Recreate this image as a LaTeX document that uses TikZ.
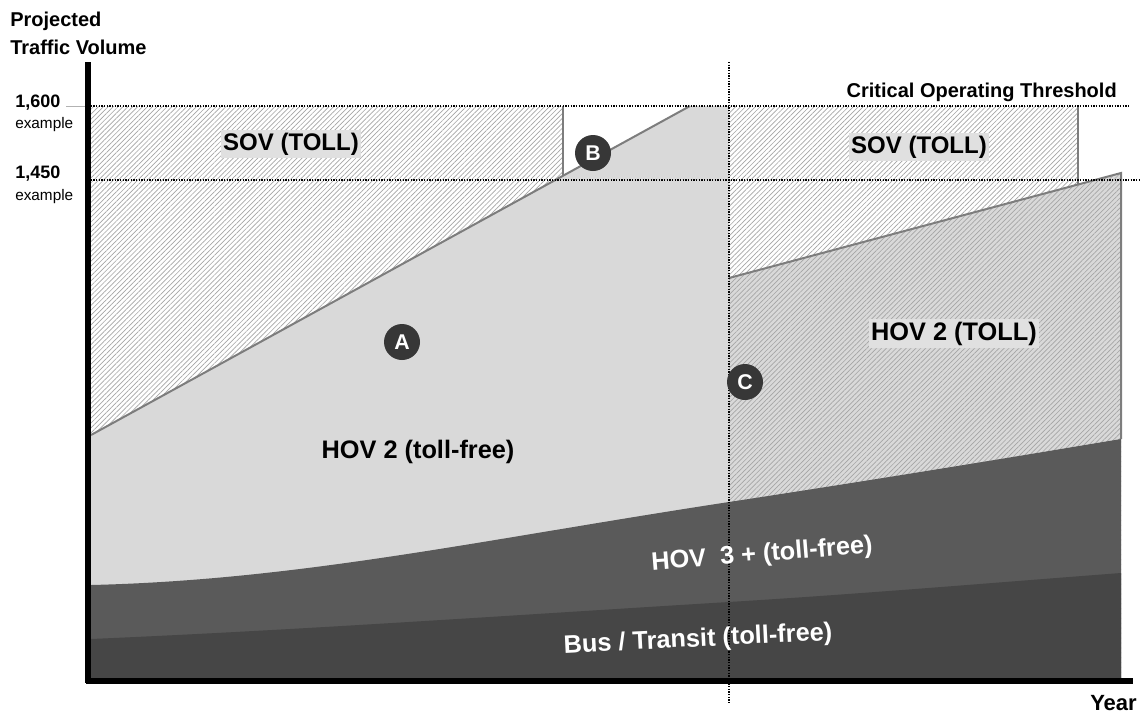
\documentclass[tikz,border=0pt]{standalone}
\usepackage{fontspec}
\setmainfont{Liberation Sans}
\usepackage{xcolor}
\usetikzlibrary{patterns.meta}

\definecolor{hovfree}{RGB}{217,217,217}
\definecolor{hovthree}{RGB}{90,90,90}
\definecolor{busband}{RGB}{70,70,70}
\definecolor{edgegray}{RGB}{125,125,125}
\definecolor{hatchgray}{RGB}{165,165,165}
\definecolor{labelbg}{RGB}{224,224,224}
\definecolor{badge}{RGB}{55,55,55}

\begin{document}
\begin{tikzpicture}[x=0.75pt,y=0.75pt,yscale=-1,xscale=1,
  hatch/.style={preaction={fill=#1},pattern={Lines[angle=45,distance=2.6pt,line width=0.5pt]},pattern color=hatchgray},
  edge/.style={draw=edgegray,line width=1.5pt},
  thold/.style={line width=1pt,dash pattern=on 1.1pt off 0.9pt},
  axis/.style={line width=5pt},
  bandlbl/.style={font=\fontsize{19}{22}\selectfont\bfseries,inner sep=2pt},
  smalllbl/.style={font=\fontsize{15}{18}\selectfont\bfseries,inner sep=0pt},
  valuelbl/.style={font=\fontsize{13.5}{15}\selectfont\bfseries,inner sep=0pt},
  notelbl/.style={font=\fontsize{11.5}{13}\selectfont,inner sep=0pt},
  badgenode/.style={circle,fill=badge,text=white,minimum size=27pt,inner sep=0pt,font=\fontsize{16}{16}\selectfont\bfseries}
]
\path[use as bounding box] (0,0) rectangle (1143,715);

%Shape: HOV 2 toll-free area
\fill[hovfree] (91,435) -- (690,106) -- (729,106) -- (729,681) -- (91,681) -- cycle;
%Shape: SOV left, hatched
\path[hatch=white] (91,106) -- (563,106) -- (563,176) -- (91,435) -- cycle;
%Shape: SOV right, hatched
\path[hatch=white] (729,106) -- (1078,106) -- (1078,184) -- (729,278) -- cycle;
%Shape: HOV 2 toll area, hatched
\path[hatch=hovfree] (729,278) -- (1121,173) -- (1121,681) -- (729,681) -- cycle;
%Shape: HOV 3+ band
\fill[hovthree] (91,585) .. controls (300,580) and (480,540) .. (729,502) .. controls (860,482) and (990,461) .. (1121,439) -- (1121,681) -- (91,681) -- cycle;
%Shape: Bus band
\fill[busband] (91,639) .. controls (300,630) and (500,616) .. (729,602) .. controls (860,594) and (990,583) .. (1121,573) -- (1121,681) -- (91,681) -- cycle;

%Straight Lines: area borders
\draw[edge] (91,435) -- (690,106);
\draw[edge] (563,106) -- (563,176);
\draw[edge] (1078,106) -- (1078,184);
\draw[edge] (729,278) -- (1121,173) -- (1121,439);

%Straight Lines: thresholds
\draw[draw=gray!60,line width=0.6pt] (66,106) -- (88,106);
\draw[thold] (88,106) -- (1130,106);
\draw[thold] (88,180) -- (1140,180);
\draw[thold] (729,62) -- (729,703);

%Straight Lines: axes
\draw[axis] (88,62) -- (88,683);
\draw[axis] (86,681) -- (1133,681);

% Text Node
\node[smalllbl,anchor=base west] (ytitle) at (10,26) {Projected};
\node[smalllbl,anchor=base west] (ytitleb) at (10,54) {Traffic Volume};
% Text Node
\node[valuelbl,anchor=base west] (hightick) at (15,107) {1,600};
\node[notelbl,anchor=base west] (highnote) at (15,128) {example};
\node[valuelbl,anchor=base west] (lowtick) at (15,178) {1,450};
\node[notelbl,anchor=base west] (lownote) at (15,200) {example};
% Text Node
\node[smalllbl,anchor=base east] (critical) at (1117,97) {Critical Operating Threshold};
\node[smalllbl,anchor=base east,font=\fontsize{16.5}{18}\selectfont\bfseries] (xtitle) at (1137,710) {Year};

% Text Node
\node[bandlbl,fill=labelbg,anchor=base,font=\fontsize{18}{20}\selectfont\bfseries] (sovleft) at (291,150) {SOV (TOLL)};
\node[bandlbl,fill=labelbg,anchor=base,font=\fontsize{18}{20}\selectfont\bfseries] (sovright) at (919,153) {SOV (TOLL)};
\node[bandlbl,fill=labelbg,anchor=base] (hovtoll) at (954,340) {HOV 2 (TOLL)};
\node[bandlbl,anchor=base] (hovfree) at (418,458) {HOV 2 (toll-free)};
\node[bandlbl,text=white,rotate=4.6] (hovthree) at (762,555) {HOV~~3 + (toll-free)};
\node[bandlbl,text=white,rotate=2.8] (bus) at (698,640) {Bus / Transit (toll-free)};

%Shape: Circle badges
\node[badgenode] (pa) at (402,342) {A};
\node[badgenode] (pb) at (593,153) {B};
\node[badgenode] (pc) at (745,382) {C};

\end{tikzpicture}
\end{document}
